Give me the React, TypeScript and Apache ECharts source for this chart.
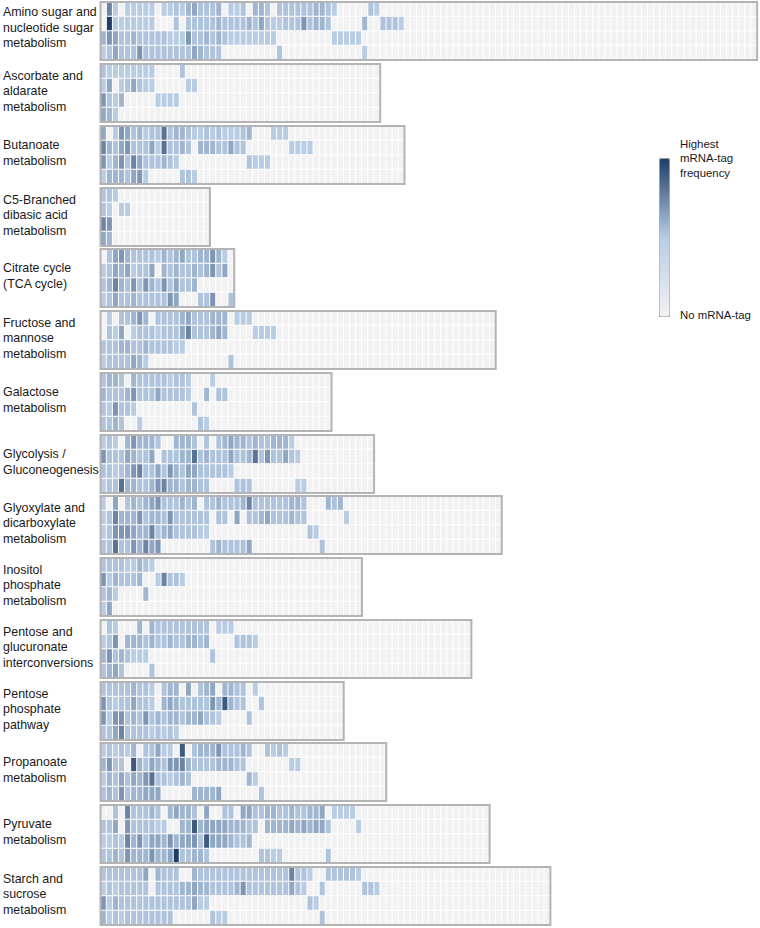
import React, { useEffect, useRef } from "react";
import * as echarts from "echarts";

const pathwayLabels = [
  "Amino sugar and\nnucleotide sugar\nmetabolism",
  "Ascorbate and\naldarate\nmetabolism",
  "Butanoate\nmetabolism",
  "C5-Branched\ndibasic acid\nmetabolism",
  "Citrate cycle\n(TCA cycle)",
  "Fructose and\nmannose\nmetabolism",
  "Galactose\nmetabolism",
  "Glycolysis /\nGluconeogenesis",
  "Glyoxylate and\ndicarboxylate\nmetabolism",
  "Inositol\nphosphate\nmetabolism",
  "Pentose and\nglucuronate\ninterconversions",
  "Pentose\nphosphate\npathway",
  "Propanoate\nmetabolism",
  "Pyruvate\nmetabolism",
  "Starch and\nsucrose\nmetabolism",
];
const legendHigh = "Highest\nmRNA-tag\nfrequency";
const legendLow = "No mRNA-tag";

const columnCounts = [108, 46, 50, 18, 22, 65, 38, 45, 66, 43, 61, 40, 47, 64, 74];

// One string per row, one digit per gene. 0 = no tag, 1 to 9 = rising tag frequency. Trailing zeros omitted.
const amino = [
  "0610111110 1121342223 0112033202 2222233210 000021",
  "0911111110 0020222223 2222324211 2225233200 0003002221",
  "3542232222 2111522323 2111111110 0000000011 111",
  "1242225222 2222243222 0000000002 0000000000 0001",
];
const ascorbate = [
  "2111111110 0002",
  "1401242110 000011",
  "5213000001 111",
  "431",
];
const butanoate = [
  "4015423122 7233211212 1112300011 1",
  "6324522241 7223203332 2422000000 01111",
  "5135264222 3210000000 00002111",
  "1333245100 000221",
];
const c5Branched = ["221", "21011", "65", "43"];
const citrate = [
  "0245322221 3234223353 1",
  "1243412240 3232232352 4",
  "2363252532 5242230000",
  "1242232222 2540002250 02",
];
const fructose = [
  "0102235302 2223422233 30111",
  "0214012221 2224622234 300001111",
  "2223322322 2211",
  "1222243100 0000000000 02",
];
const galactose = [
  "2332032222 2122100010",
  "3222352224 2222100302 2",
  "2152210000 000002",
  "2232001000 00000021",
];
const glycolysis = [
  "1210353332 0033320202 3433232233 31",
  "5222432240 2223372322 2422372522 421",
  "2212356224 2532442222 21",
  "1227332235 6332332200 0022200000 0011",
];
const glyoxylate = [
  "1040232345 2223230223 2223622222 2332000323",
  "1263335233 2522222202 2040223422 2322000000 1",
  "1255543362 3422221100 0000000000 000021",
  "2272253645 0000000023 2222400000 0000002",
];
const inositol = ["222211321", "5132223001 6221", "23100003", "14"];
const pentoseGlucuronate = [
  "0210003032 2222222201 11",
  "1250333232 2322332300 002221",
  "3523211100 000000002",
  "234200002",
];
const pentosePhosphate = [
  "2222232210 2330402340 332201",
  "5212242210 3432222253 8322002",
  "5155232523 2332334221 00002",
  "2246222212 121",
];
const propanoate = [
  "1212130224 1108023335 22232002121",
  "3522083243 2556322223 3322000000 011",
  "1324243572 2123200000 000031",
  "2325233444 0000033334 0000002",
];
const pyruvate = [
  "0020622232 0343320400 2204422332 2322334011 11",
  "2240522221 1003383444 4333220333 3434344200 001",
  "1121635244 3534452844 43223",
  "2232533353 3492233200 0000002211 00000002",
];
const starch = [
  "2222222403 2220032222 2222222222 2622100222 221",
  "1212222202 2223343322 2235222222 2421002000 000221",
  "5132222222 2222241100 0000000000 000021",
  "3121222222 2200000021 1000000000 0000002",
];

const panels = [
  amino, ascorbate, butanoate, c5Branched, citrate, fructose, galactose, glycolysis,
  glyoxylate, inositol, pentoseGlucuronate, pentosePhosphate, propanoate, pyruvate, starch,
];

// Tag frequency (percent of the colour scale) for each digit used in the rows above.
const levelValues = [0, 50, 53, 58, 63, 69, 75, 81, 90, 100];

const CELL_W = 6.08;
const PANEL_H = 58;
const PANEL_LEFT = 100.5;
const panelTop = (i: number) => Math.round(2.3 + 61.75 * i);
const FONT = '"Liberation Sans", Arial, sans-serif';

function buildOption() {
  const grid: any[] = [];
  const xAxis: any[] = [];
  const yAxis: any[] = [];
  const series: any[] = [];
  const graphic: any[] = [];
  panels.forEach((rows, p) => {
    const n = columnCounts[p];
    const cols = Array.from({ length: n }, (_, i) => i);
    grid.push({
      left: PANEL_LEFT,
      top: panelTop(p),
      width: n * CELL_W,
      height: PANEL_H,
      show: true,
      backgroundColor: "transparent",
      borderColor: "#b4b4b4",
      borderWidth: 2,
      z: 3,
    });
    xAxis.push({ type: "category", gridIndex: p, data: cols, show: false });
    yAxis.push({ type: "category", gridIndex: p, data: [0, 1, 2, 3], inverse: true, show: false });
    const data: number[][] = [];
    rows.forEach((row, r) => {
      const digits = row.replace(/\s/g, "").padEnd(n, "0");
      for (let c = 0; c < n; c++) data.push([c, r, levelValues[Number(digits[c])]]);
    });
    series.push({
      type: "heatmap",
      xAxisIndex: p,
      yAxisIndex: p,
      data,
      silent: true,
      itemStyle: { borderColor: "#ffffff", borderWidth: 1 },
      emphasis: { disabled: true },
    });
    const lineCount = pathwayLabels[p].split("\n").length;
    graphic.push({
      type: "text",
      left: 3,
      top: panelTop(p) + 27 - (lineCount * 15.5) / 2 - (p === 0 ? 1.5 : 0),
      style: { text: pathwayLabels[p], font: `12.4px ${FONT}`, lineHeight: 15.5, fill: "#1a1a1a" },
    });
  });
  graphic.push({
    type: "text",
    left: 680,
    top: 137,
    style: { text: legendHigh, font: `11.4px ${FONT}`, lineHeight: 14.2, fill: "#1a1a1a" },
  });
  graphic.push({
    type: "text",
    left: 680,
    top: 308,
    style: { text: legendLow, font: `11.4px ${FONT}`, lineHeight: 14.2, fill: "#1a1a1a" },
  });
  return {
    animation: false,
    backgroundColor: "#ffffff",
    grid,
    xAxis,
    yAxis,
    series,
    graphic,
    visualMap: {
      type: "continuous",
      min: 0,
      max: 100,
      left: 659,
      top: 158,
      itemWidth: 10,
      itemHeight: 158,
      padding: 0,
      borderColor: "#a8a8a8",
      borderWidth: 1,
      calculable: false,
      realtime: false,
      showLabel: false,
      text: ["", ""],
      inRange: { color: ["#f2f2f2", "#b8cce4", "#1f3d66"] },
    },
  };
}

export default function App() {
  const ref = useRef<HTMLDivElement>(null);
  useEffect(() => {
    const chart = echarts.init(ref.current!, undefined, { renderer: "svg" });
    chart.setOption(buildOption() as any);
    return () => chart.dispose();
  }, []);
  return <div ref={ref} style={{ position: "absolute", left: 0, top: 0, width: 760, height: 928 }} />;
}
